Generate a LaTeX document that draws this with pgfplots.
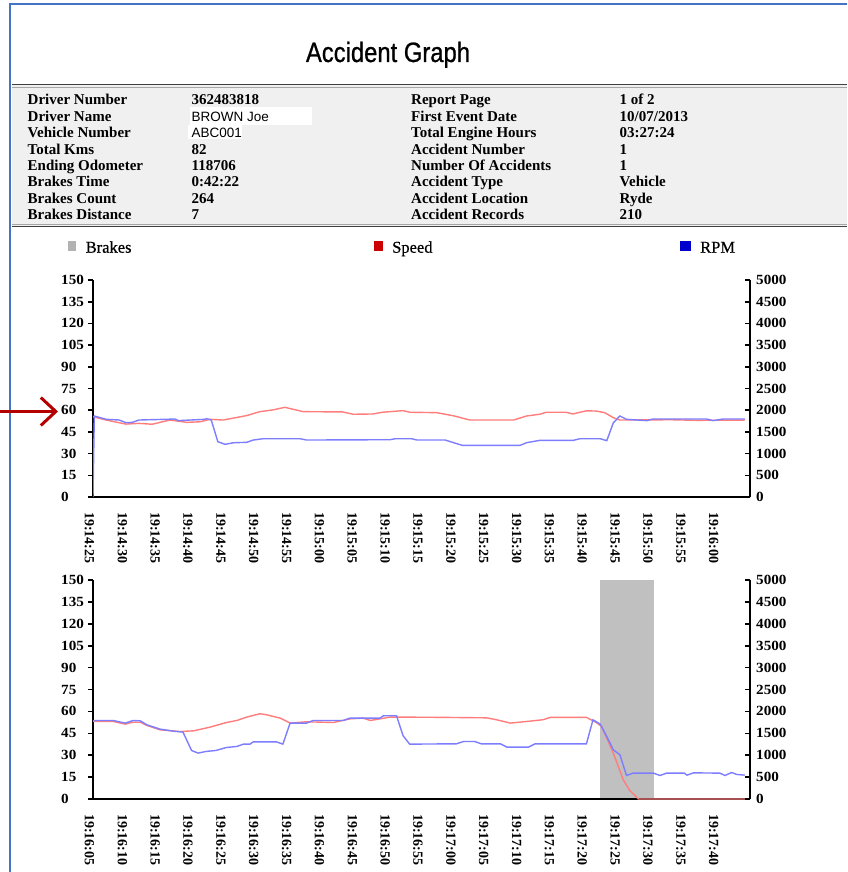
\documentclass[border=0pt]{standalone}
\usepackage{fontspec}
\setmainfont{Liberation Serif}
\newfontfamily\wideserif{Liberation Serif}[FakeStretch=1.08]
\newfontfamily\titlefont{Liberation Sans}[FakeStretch=0.85, FakeBold=0.8]
\newfontfamily\legfont{Liberation Serif}[FakeBold=0.6]
\newfontfamily\sansfont{Liberation Sans}
\usepackage{pgfplots}
\usepackage{pgfplotstable}
\pgfplotsset{compat=1.18}
\usetikzlibrary{arrows.meta}

\definecolor{spd}{RGB}{255,125,125}
\definecolor{rpm}{RGB}{125,125,255}
\definecolor{frameblue}{RGB}{68,114,196}
\definecolor{boxgray}{RGB}{240,240,240}
\definecolor{brakegray}{RGB}{192,192,192}
\definecolor{arrowred}{RGB}{180,0,0}
\definecolor{leggray}{RGB}{178,178,178}
\definecolor{legred}{RGB}{204,0,0}
\definecolor{legblue}{RGB}{0,0,204}

\newcommand{\ytf}{\wideserif\bfseries\fontsize{14}{14}\selectfont}
\newcommand{\xtf}{\bfseries\fontsize{14}{14}\selectfont}
\newcommand{\infofont}{\bfseries\fontsize{15}{15}\selectfont}

\pgfplotstableread{
t v
0 55.5
2 53.2
5 50.4
7 50.9
9 50.3
11.7 53.2
14.3 51.6
16.3 52
17.8 53.7
19.8 53.2
21.9 55
23.4 56.3
25.4 59
27.4 60.2
29.2 62
32 59
38 58.8
39.6 57.2
42.6 57.4
44.1 58.6
47.2 59.7
48.2 58.6
52.3 58.3
54.8 56.2
57.4 53.2
64 53.2
66 56
68 57.2
69 58.6
72 58.6
73 57.4
75.1 59.6
76.6 59.4
77.9 58.3
79.2 54.8
80.2 53.2
88 53.4
92 53.0
99.2 53.2
}\topspeed

\pgfplotstableread{
t v
0 0
0.2 1866
2 1790
4 1774
5 1712
6 1720
7 1774
11 1790
12.5 1797
13 1760
17 1790
17.3 1805
18 1774
19 1274
20.1 1214
21.4 1250
23.4 1260
24.4 1313
25.9 1343
31.5 1343
32.5 1313
45.2 1320
46 1343
48.5 1343
49.3 1313
53.6 1313
56.2 1190
65 1190
66 1252
68 1305
73.1 1305
74.1 1343
77.2 1343
78.2 1298
79.2 1712
80.2 1866
81.2 1790
84.3 1760
85.2 1797
93.4 1797
94.4 1760
95.9 1797
99.2 1797
}\toprpm

\pgfplotstableread{
t v
0 53.1
3.1 53.1
4.9 51.3
6.1 52.6
7.2 52.6
8.2 50.4
10.2 47.4
13.2 46.2
15.3 46.7
17.8 49.2
20.3 52.4
21.9 53.8
23.4 56.1
25.4 58.4
26.4 57.7
28.5 55.4
30 52
32.5 52.9
36.6 52.4
39.1 54.9
41.1 55.4
42.2 53.8
43.7 54.9
45.2 56.1
51.3 56.0
59.9 55.6
61.4 54.3
63.5 52
66 53.1
68.5 54.3
69.6 55.9
75.1 55.9
76.6 52.4
77.4 49.7
79.2 31.4
80.7 13.2
81.7 5.8
83 0
99.2 0
}\botspeed

\pgfplotstableread{
t v
0 1792
3.1 1792
4.9 1733
6.1 1792
7.2 1785
8.2 1694
10.2 1596
12.2 1550
13.7 1527
15 1108
16 1048
17.2 1086
18.7 1108
20.3 1176
21.9 1200
22.9 1253
23.9 1253
24.4 1306
27.9 1306
28.9 1253
30 1733
32.5 1733
33.5 1792
38.1 1792
39.1 1847
43.7 1847
44.2 1900
46.2 1900
47.2 1443
48.2 1253
55.3 1260
56.4 1313
58.1 1313
59.1 1260
62 1260
63 1185
66.3 1185
67.3 1260
75.1 1260
76.1 1808
77.2 1710
78.2 1427
79.2 1123
80.2 1009
81.2 537
82.2 591
85.3 591
86.3 537
87.3 591
90 591
90.4 545
91.4 597
95.4 591
96.2 537
97.2 605
98 560
99.2 545
}\botrpm

\pgfplotsset{
  base/.style={
    scale only axis, width=657pt, xmin=0, xmax=100,
    axis line style={line width=1.6pt, black},
    tick style={line width=1.6pt, black},
    major tick length=5pt,
  },
  leftax/.style={
    base,
    ymin=0, ymax=150,
    axis y line*=left, axis x line*=bottom,
    tick align=outside,
    ytick={0,15,...,150},
    yticklabels={0,15,30,45,60,75,90,105,120,135,150},
    yticklabel style={font=\ytf, inner sep=0pt, anchor=west, xshift=-27pt},
    xtick={0,5,...,95},
    xtick style={draw=none},
    xticklabel style={font=\xtf, inner sep=0pt, yshift=-10pt, xshift=-3.5pt, rotate=-90, anchor=west},
  },
  rightax/.style={
    base,
    ymin=0, ymax=5000,
    axis y line*=right, axis x line=none,
    tick align=inside,
    ytick={0,500,...,5000},
    yticklabels={0,500,1000,1500,2000,2500,3000,3500,4000,4500,5000},
    yticklabel style={font=\ytf, inner sep=0pt, anchor=west, xshift=6pt},
  },
}

\begin{document}
\begin{tikzpicture}
\path[use as bounding box] (0,0) rectangle (847pt,-872pt);
\fill[white] (0,0) rectangle (847pt,-872pt);
% frame
\draw[frameblue, line width=1.5pt] (10pt,-872pt) -- (10pt,-4pt) -- (847pt,-4pt);
% title
\node[anchor=base, inner sep=0pt, font=\titlefont\fontsize{28}{28}\selectfont] at (388pt,-62pt) {Accident Graph};
% info box
\fill[boxgray] (12pt,-85pt) rectangle (847pt,-226pt);
\draw[black!75, line width=1.6pt] (12pt,-84.5pt) -- (847pt,-84.5pt);
\draw[black!35, line width=0.8pt] (12pt,-87pt) -- (847pt,-87pt);
\draw[black!35, line width=0.8pt] (12pt,-224pt) -- (847pt,-224pt);
\draw[black!75, line width=1.6pt] (12pt,-226.5pt) -- (847pt,-226.5pt);
\fill[white] (190pt,-107.3pt) rectangle (311.7pt,-125pt);
\fill[white] (188pt,-125pt) rectangle (241.7pt,-139.3pt);
\begin{scope}[every node/.style={anchor=base west, inner sep=0pt, font=\infofont}]
\node at (27.5pt,-105pt) {Driver Number};
\node at (27.5pt,-121.3pt) {Driver Name};
\node at (27.5pt,-137.6pt) {Vehicle Number};
\node at (27.5pt,-154pt) {Total Kms};
\node at (27.5pt,-170.3pt) {Ending Odometer};
\node at (27.5pt,-186.6pt) {Brakes Time};
\node at (27.5pt,-203pt) {Brakes Count};
\node at (27.5pt,-219.3pt) {Brakes Distance};
\node at (191.5pt,-105pt) {362483818};
\node[font=\sansfont\fontsize{13.5}{13.5}\selectfont] at (191.5pt,-121.3pt) {BROWN Joe};
\node[font=\sansfont\fontsize{13.5}{13.5}\selectfont] at (191.5pt,-137.6pt) {ABC001};
\node at (191.5pt,-154pt) {82};
\node at (191.5pt,-170.3pt) {118706};
\node at (191.5pt,-186.6pt) {0:42:22};
\node at (191.5pt,-203pt) {264};
\node at (191.5pt,-219.3pt) {7};
\node at (411pt,-105pt) {Report Page};
\node at (411pt,-121.3pt) {First Event Date};
\node at (411pt,-137.6pt) {Total Engine Hours};
\node at (411pt,-154pt) {Accident Number};
\node at (411pt,-170.3pt) {Number Of Accidents};
\node at (411pt,-186.6pt) {Accident Type};
\node at (411pt,-203pt) {Accident Location};
\node at (411pt,-219.3pt) {Accident Records};
\node at (619.5pt,-105pt) {1 of 2};
\node at (619.5pt,-121.3pt) {10/07/2013};
\node at (619.5pt,-137.6pt) {03:27:24};
\node at (619.5pt,-154pt) {1};
\node at (619.5pt,-170.3pt) {1};
\node at (619.5pt,-186.6pt) {Vehicle};
\node at (619.5pt,-203pt) {Ryde};
\node at (619.5pt,-219.3pt) {210};
\end{scope}
% legend
\fill[leggray] (67.5pt,-241pt) rectangle (75.5pt,-251pt);
\fill[legred] (373.5pt,-241pt) rectangle (383pt,-251pt);
\fill[legblue] (680pt,-241pt) rectangle (691pt,-251pt);
\begin{scope}[every node/.style={anchor=base west, inner sep=0pt, font=\legfont\fontsize{16.5}{16.5}\selectfont}]
\node at (85.5pt,-252.7pt) {Brakes};
\node at (392pt,-252.7pt) {Speed};
\node at (700pt,-252.7pt) {RPM};
\end{scope}

% ---------- top chart ----------
\begin{axis}[leftax, at={(93pt,-497pt)}, anchor=south west, height=217pt,
  xticklabels={19:14:25,19:14:30,19:14:35,19:14:40,19:14:45,19:14:50,19:14:55,19:15:00,19:15:05,19:15:10,19:15:15,19:15:20,19:15:25,19:15:30,19:15:35,19:15:40,19:15:45,19:15:50,19:15:55,19:16:00}]
\addplot[spd, line width=1.4pt] table[x=t,y=v] {\topspeed};
\end{axis}
\begin{axis}[rightax, at={(93pt,-497pt)}, anchor=south west, height=217pt]
\addplot[rpm, line width=1.4pt] table[x=t,y=v] {\toprpm};
\end{axis}

% ---------- bottom chart ----------
\begin{axis}[leftax, at={(93pt,-799pt)}, anchor=south west, height=219pt,
  xticklabels={19:16:05,19:16:10,19:16:15,19:16:20,19:16:25,19:16:30,19:16:35,19:16:40,19:16:45,19:16:50,19:16:55,19:17:00,19:17:05,19:17:10,19:17:15,19:17:20,19:17:25,19:17:30,19:17:35,19:17:40}]
\addplot[fill=brakegray, draw=none] coordinates {(77.2,0.6) (77.2,150) (85.4,150) (85.4,0.6)} -- cycle;
\addplot[spd, line width=1.4pt] table[x=t,y=v] {\botspeed};
\end{axis}
\begin{axis}[rightax, at={(93pt,-799pt)}, anchor=south west, height=219pt]
\addplot[rpm, line width=1.4pt] table[x=t,y=v] {\botrpm};
\end{axis}

% annotation arrow
\draw[arrowred, line width=3pt, -{Straight Barb[length=15pt,width=28pt]}] (0pt,-411.5pt) -- (58pt,-411.5pt);
\end{tikzpicture}
\end{document}
